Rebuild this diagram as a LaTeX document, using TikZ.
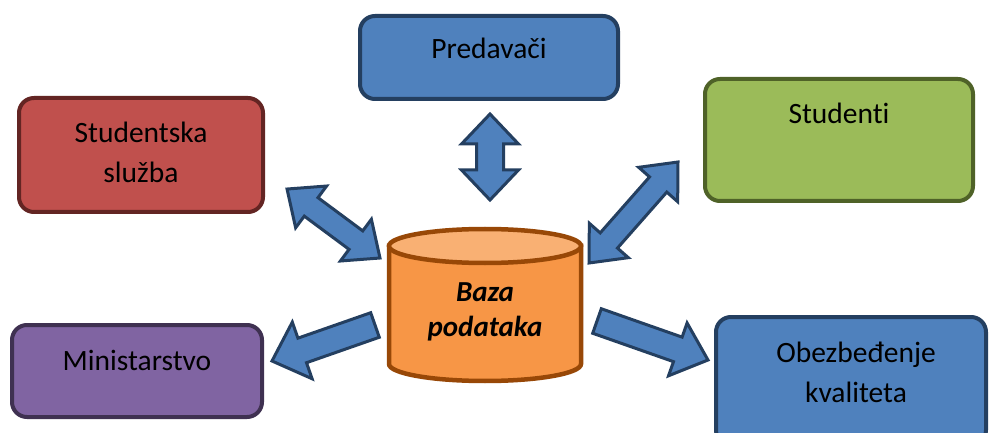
\documentclass[tikz,border=0pt]{standalone}
\usepackage{fontspec}
\setmainfont[Ligatures=NoCommon]{Carlito}
\usetikzlibrary{calc}
\definecolor{bluefill}{HTML}{4F81BD}
\definecolor{bluedraw}{HTML}{243F60}
\definecolor{redfill}{HTML}{C0504D}
\definecolor{reddraw}{HTML}{632523}
\definecolor{greenfill}{HTML}{9BBB59}
\definecolor{greendraw}{HTML}{4F6228}
\definecolor{purplefill}{HTML}{8064A2}
\definecolor{purpledraw}{HTML}{3F3151}
\definecolor{orangefill}{HTML}{F79646}
\definecolor{orangetop}{HTML}{F9B073}
\definecolor{orangedraw}{HTML}{984807}
\definecolor{arrfill}{HTML}{4F81BD}
\definecolor{arrdraw}{HTML}{243F60}
% #1 from, #2 to, #3 shaft half width, #4 head half width, #5 head length, #6 = 1 double / 0 single
\newcommand\blockarr[6]{%
  \path let \p1=($(#2)-(#1)$) in \pgfextra{%
    \pgfmathsetmacro\bal{veclen(\x1,\y1)}%
    \pgfmathsetmacro\baa{atan2(\y1,\x1)}%
    \global\let\barlen\bal\global\let\barang\baa};
  \begin{scope}[shift={(#1)},rotate=\barang,x=1pt,y=1pt]
    \ifnum#6=1
      \draw[barrow] (0,0) -- (#5,#4) -- (#5,#3) -- (\barlen-#5,#3) -- (\barlen-#5,#4)
        -- (\barlen,0) -- (\barlen-#5,-#4) -- (\barlen-#5,-#3) -- (#5,-#3) -- (#5,-#4) -- cycle;
    \else
      \draw[barrow] (0,#3) -- (\barlen-#5,#3) -- (\barlen-#5,#4) -- (\barlen,0)
        -- (\barlen-#5,-#4) -- (\barlen-#5,-#3) -- (0,-#3) -- cycle;
    \fi
  \end{scope}}
\begin{document}
\begin{tikzpicture}[x=1pt,y=-1pt,
  box/.style={rounded corners=15pt, line width=4pt, inner sep=0pt},
  lbl/.style={font=\fontsize{29.5}{40}\selectfont, align=center, anchor=base, inner sep=0pt},
  dblbl/.style={font=\fontsize{29}{35}\selectfont\bfseries\itshape, align=center, anchor=base, inner sep=0pt},
  barrow/.style={fill=arrfill, draw=arrdraw, line width=3pt, line join=miter}]
\useasboundingbox (0,0) rectangle (989,433);
\clip (0,0) rectangle (989,433);

% boxes
\node[box, fill=bluefill, draw=bluedraw, minimum width=258pt, minimum height=83pt] (pred) at (489,57.5) {};
\node[box, fill=redfill, draw=reddraw, minimum width=244pt, minimum height=114pt] (sluzba) at (141,155) {};
\node[box, fill=greenfill, draw=greendraw, minimum width=268pt, minimum height=122pt] (stud) at (839,140) {};
\node[box, fill=purplefill, draw=purpledraw, minimum width=250pt, minimum height=92pt] (min) at (137,371) {};
\node[box, fill=bluefill, draw=bluedraw, minimum width=270pt, minimum height=128pt] (obez) at (851,381) {};

% database cylinder
\coordinate (db) at (485,305);
\filldraw[fill=orangefill, draw=orangedraw, line width=4.5pt]
  (389,246) -- (389,364) arc[start angle=180, end angle=360, x radius=96pt, y radius=17pt] -- (581,246) -- cycle;
\filldraw[fill=orangetop, draw=orangedraw, line width=4.5pt] (485,246) ellipse[x radius=96pt, y radius=17pt];

% labels (base anchor = baseline of the last line)
\node[lbl] (predt) at (489,59) {Predavači};
\node[lbl] (studt) at (839,124) {Studenti};
\node[lbl] (sluzbat) at (141,183) {Studentska\\služba};
\node[lbl] (mint) at (137,370) {Ministarstvo};
\node[lbl] (obezt) at (856,402) {Obezbeđenje\\kvaliteta};
\node[dblbl] (dbt) at (485,336) {Baza\\podataka};

% arrow end points
\coordinate (a1s) at (490,200);
\coordinate (a1e) at (490,114);
\coordinate (a2s) at (380,258);
\coordinate (a2e) at (287,189);
\coordinate (a3s) at (589,263);
\coordinate (a3e) at (678,162);
\coordinate (a4s) at (375,325);
\coordinate (a4e) at (272,361);
\coordinate (a5s) at (597,321);
\coordinate (a5e) at (708,360);

\blockarr{a1s}{a1e}{13.5}{28.5}{30}{1}
\blockarr{a2s}{a2e}{11.5}{26}{30}{1}
\blockarr{a3s}{a3e}{11.5}{26}{30}{1}
\blockarr{a4s}{a4e}{13}{30}{32}{0}
\blockarr{a5s}{a5e}{13}{28}{32}{0}
\end{tikzpicture}
\end{document}
